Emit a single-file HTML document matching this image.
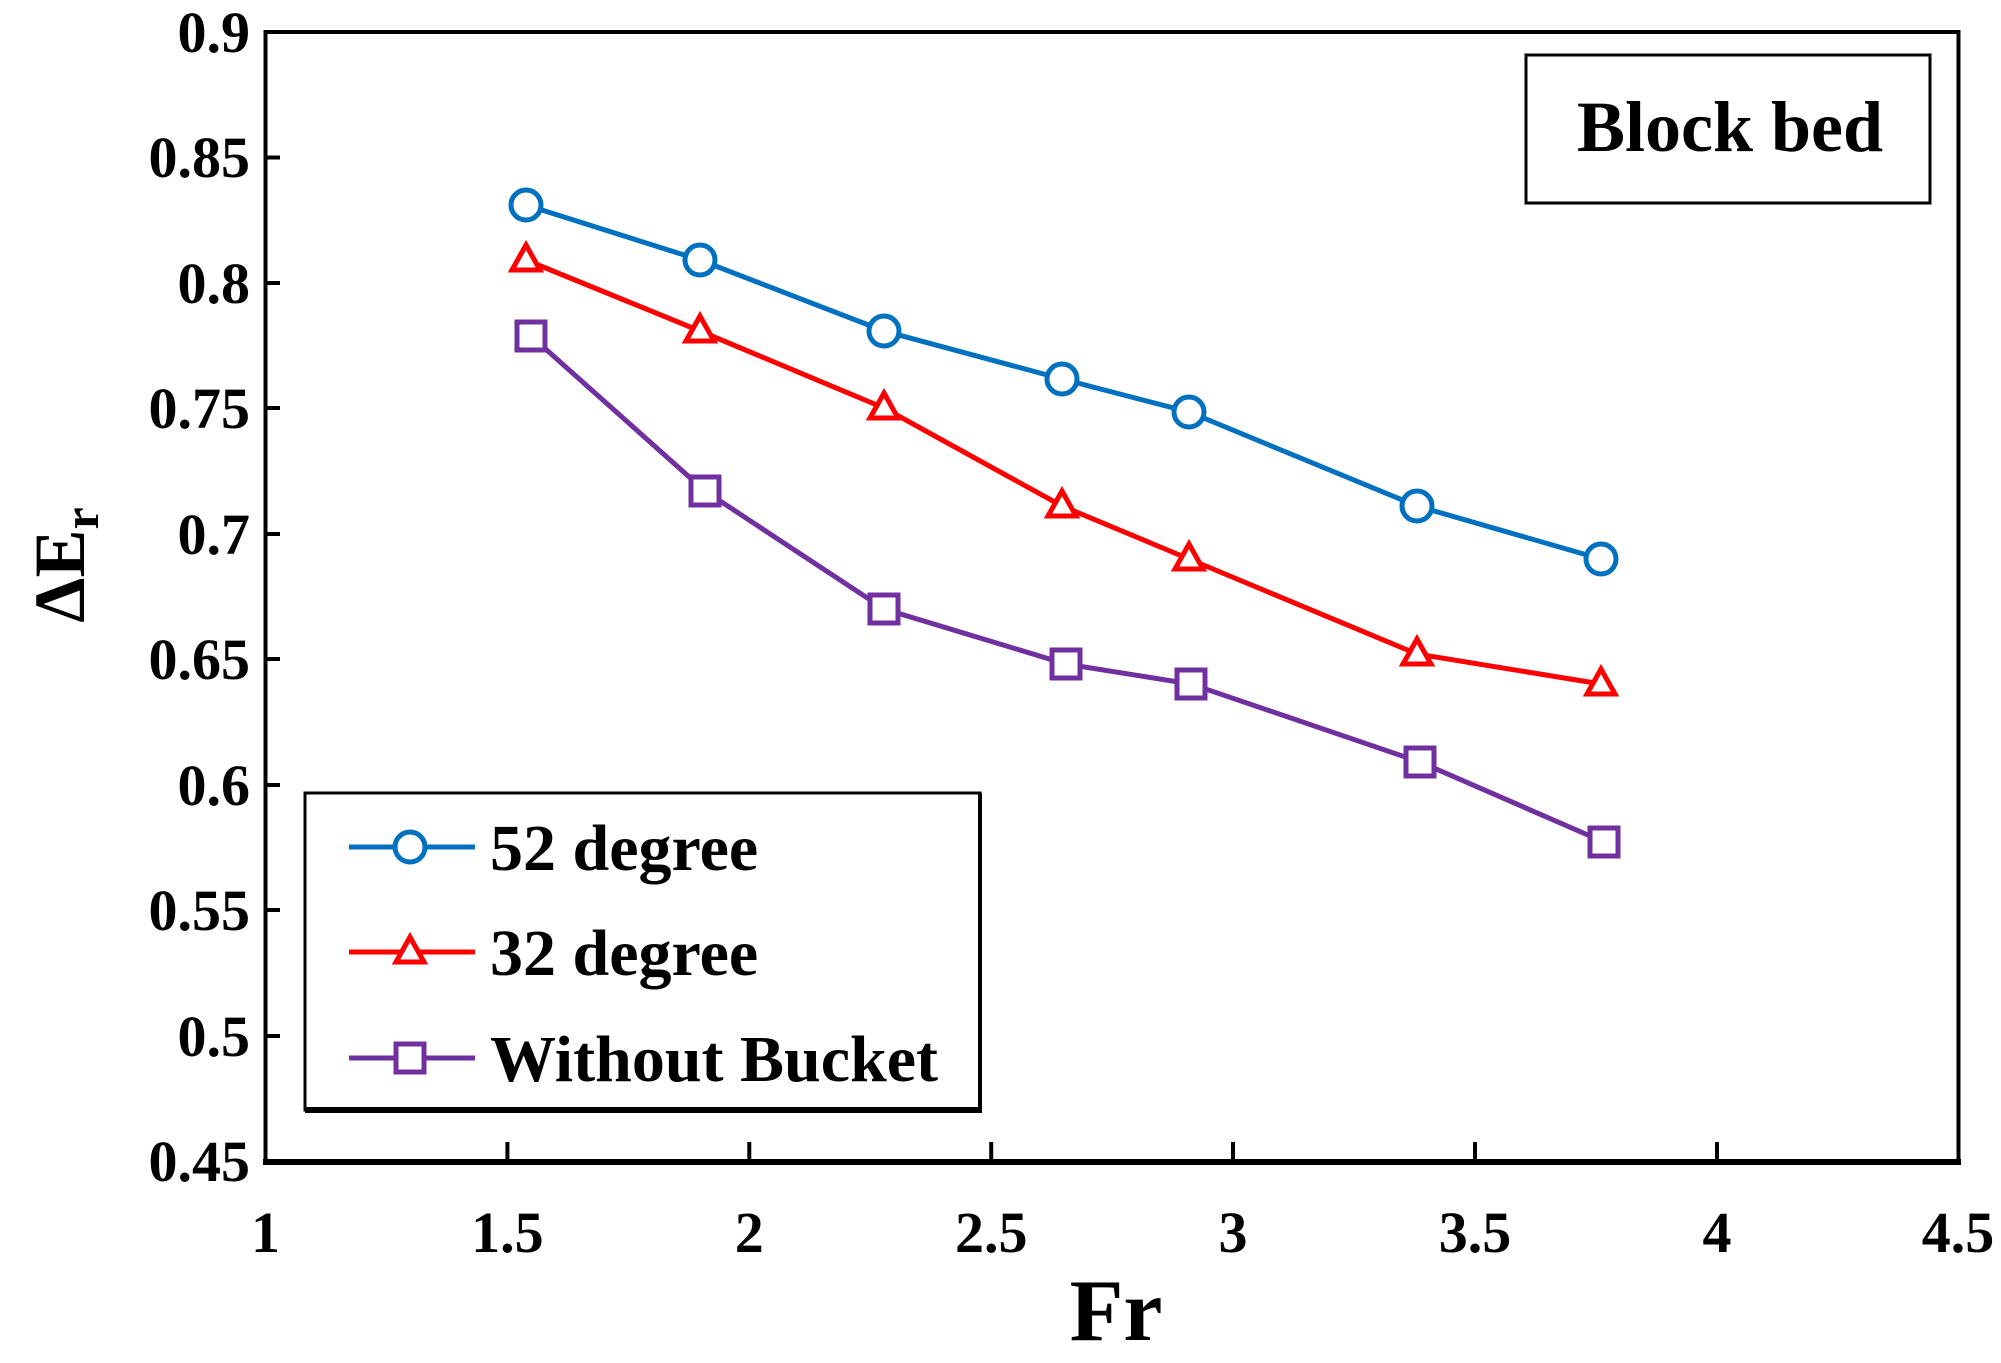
<!DOCTYPE html><html><head><style>body{margin:0;background:#fff}</style></head><body>
<svg width="2001" height="1358" xmlns="http://www.w3.org/2000/svg" font-family="Liberation Serif, serif" font-weight="bold">
<rect width="2001" height="1358" fill="#fff"/>
<rect x="265.5" y="32" width="1693" height="1129" fill="none" stroke="#000" stroke-width="4"/>
<line x1="263" y1="1162" x2="1961" y2="1162" stroke="#000" stroke-width="6"/>
<g stroke="#000" stroke-width="4">
<line x1="265" y1="157.5" x2="280" y2="157.5"/><line x1="265" y1="283" x2="280" y2="283"/><line x1="265" y1="408" x2="280" y2="408"/><line x1="265" y1="534" x2="280" y2="534"/><line x1="265" y1="659" x2="280" y2="659"/><line x1="265" y1="785" x2="280" y2="785"/><line x1="265" y1="910" x2="280" y2="910"/><line x1="265" y1="1036" x2="280" y2="1036"/>
<line x1="507.4" y1="1161" x2="507.4" y2="1142"/><line x1="749.3" y1="1161" x2="749.3" y2="1142"/><line x1="991.2" y1="1161" x2="991.2" y2="1142"/><line x1="1233" y1="1161" x2="1233" y2="1142"/><line x1="1475" y1="1161" x2="1475" y2="1142"/><line x1="1717" y1="1161" x2="1717" y2="1142"/>
</g>
<g font-size="58" text-anchor="end">
<text x="250" y="52">0.9</text><text x="250" y="177">0.85</text><text x="250" y="303">0.8</text><text x="250" y="428">0.75</text><text x="250" y="554">0.7</text><text x="250" y="679">0.65</text><text x="250" y="805">0.6</text><text x="250" y="930">0.55</text><text x="250" y="1056">0.5</text><text x="250" y="1181">0.45</text>
</g>
<g font-size="58" text-anchor="middle">
<text x="265.5" y="1252">1</text><text x="507.4" y="1252">1.5</text><text x="749.3" y="1252">2</text><text x="991.2" y="1252">2.5</text><text x="1233" y="1252">3</text><text x="1475" y="1252">3.5</text><text x="1717" y="1252">4</text><text x="1958" y="1252">4.5</text>
</g>
<text x="1116" y="1340" font-size="88" text-anchor="middle">Fr</text>
<text transform="translate(84,565) rotate(-90)" font-size="72" text-anchor="middle">ΔE<tspan font-size="50" dy="14">r</tspan></text>
<rect x="1526" y="55" width="404" height="148" fill="#fff" stroke="#000" stroke-width="3"/>
<text x="1730" y="151" font-size="72" text-anchor="middle">Block bed</text>
<g fill="#fff" stroke-width="5">
<polyline fill="none" stroke="#0070c0" points="526,205 700,260 884,331 1062,379 1189,412 1417,506 1601,559"/>
<g stroke="#0070c0"><circle cx="526" cy="205" r="15"/><circle cx="700" cy="260" r="15"/><circle cx="884" cy="331" r="15"/><circle cx="1062" cy="379" r="15"/><circle cx="1189" cy="412" r="15"/><circle cx="1417" cy="506" r="15"/><circle cx="1601" cy="559" r="15"/></g>
<polyline fill="none" stroke="#ff0000" points="526,260 700,331 884,408 1062,506 1189,559 1417,654 1601,684"/>
<g stroke="#ff0000">
<polygon points="526,245 540,270 512,270"/><polygon points="700,316 714,341 686,341"/><polygon points="884,393 898,418 870,418"/><polygon points="1062,491 1076,516 1048,516"/><polygon points="1189,544 1203,569 1175,569"/><polygon points="1417,639 1431,664 1403,664"/><polygon points="1601,669 1615,694 1587,694"/></g>
<polyline fill="none" stroke="#7030a0" points="531,336 705,491 884,609 1066,664 1191,684 1420,762 1604,842"/>
<g stroke="#7030a0"><rect x="517" y="322" width="28" height="28"/><rect x="691" y="477" width="28" height="28"/><rect x="870" y="595" width="28" height="28"/><rect x="1052" y="650" width="28" height="28"/><rect x="1177" y="670" width="28" height="28"/><rect x="1406" y="748" width="28" height="28"/><rect x="1590" y="828" width="28" height="28"/></g>
</g>
<rect x="305" y="793" width="675" height="317" fill="#fff" stroke="#000" stroke-width="3"/>
<line x1="305" y1="1110" x2="982" y2="1110" stroke="#000" stroke-width="6"/>
<line x1="980" y1="793" x2="980" y2="1112" stroke="#000" stroke-width="4"/>
<g stroke-width="5" fill="#fff">
<line x1="349" y1="847" x2="475" y2="847" stroke="#0070c0"/><circle cx="410" cy="847" r="15" stroke="#0070c0"/>
<line x1="349" y1="952" x2="475" y2="952" stroke="#ff0000"/><polygon points="410,937 424,962 396,962" stroke="#ff0000"/>
<line x1="349" y1="1058" x2="475" y2="1058" stroke="#7030a0"/><rect x="396" y="1044" width="28" height="28" stroke="#7030a0"/>
</g>
<g font-size="66">
<text x="490" y="870">52 degree</text><text x="490" y="975">32 degree</text><text x="490" y="1081">Without Bucket</text>
</g>
</svg>
</body></html>
